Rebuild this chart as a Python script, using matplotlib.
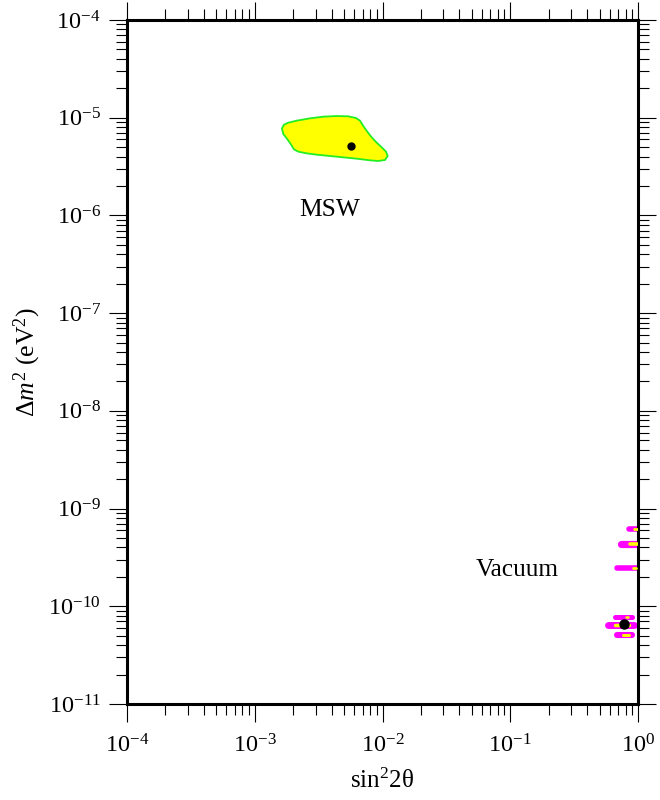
import numpy as np
import matplotlib
matplotlib.use("Agg")
import matplotlib.pyplot as plt

plt.rcParams['font.family'] = ['Liberation Serif', 'DejaVu Serif']
plt.rcParams['mathtext.fontset'] = 'custom'
plt.rcParams['mathtext.rm'] = 'Liberation Serif'
plt.rcParams['mathtext.it'] = 'Liberation Serif:italic'

# MSW allowed region (closed contour)
msw_sin2 = [1.633e-3, 1.694e-3, 1.832e-3, 2.130e-3, 2.707e-3, 3.440e-3, 4.380e-3, 5.399e-3,
            6.203e-3, 6.665e-3, 7.073e-3, 7.603e-3, 8.231e-3, 9.007e-3, 9.856e-3, 1.065e-2,
            1.098e-2, 1.046e-2, 9.271e-3, 7.984e-3, 6.281e-3, 4.933e-3, 3.882e-3, 3.053e-3,
            2.551e-3, 2.192e-3, 2.028e-3, 1.912e-3, 1.778e-3, 1.673e-3]
msw_dm2 = [7.783e-6, 8.488e-6, 8.897e-6, 9.326e-6, 9.856e-6, 1.0247e-5, 1.0411e-5, 1.0330e-5,
           9.931e-6, 9.326e-6, 8.226e-6, 7.196e-6, 6.298e-6, 5.555e-6, 4.976e-6, 4.493e-6,
           4.056e-6, 3.692e-6, 3.606e-6, 3.663e-6, 3.809e-6, 3.930e-6, 4.056e-6, 4.185e-6,
           4.319e-6, 4.493e-6, 4.746e-6, 5.382e-6, 6.152e-6, 6.812e-6]
msw_best = (5.66e-3, 5.17e-6)

# vacuum oscillation islands: sin^2 2theta range, dm2, yellow core range
vac_lo = [0.85, 0.74, 0.69, 0.66, 0.58, 0.69]
vac_hi = [1.05, 1.05, 1.05, 0.90, 0.93, 0.90]
vac_dm2 = [6.25e-10, 4.29e-10, 2.44e-10, 7.76e-11, 6.43e-11, 5.08e-11]
vac_width = [4.0, 5.2, 4.0, 3.6, 5.0, 4.4]
core_lo = [0.93, 0.86, 0.92, 0.80, 0.66, 0.76]
core_hi = [1.05, 1.05, 0.97, 0.84, 0.85, 0.85]
vac_best = (0.782, 6.53e-11)

xticks = [1e-4, 1e-3, 1e-2, 1e-1, 1e0]
xlabels = [r'$10^{-4}$', r'$10^{-3}$', r'$10^{-2}$', r'$10^{-1}$', r'$10^{0}$']
yticks = [1e-11, 1e-10, 1e-9, 1e-8, 1e-7, 1e-6, 1e-5, 1e-4]
ylabels = [r'$10^{-11}$', r'$10^{-10}$', r'$10^{-9}$', r'$10^{-8}$',
           r'$10^{-7}$', r'$10^{-6}$', r'$10^{-5}$', r'$10^{-4}$']

fig = plt.figure(figsize=(6.6, 8.0), dpi=100)
ax = fig.add_axes([0.1924, 0.12, 0.7743, 0.855])
ax.set_xscale('log')
ax.set_yscale('log')
ax.set_xlim(1e-4, 1)
ax.set_ylim(1e-11, 1e-4)

ax.fill(msw_sin2, msw_dm2, facecolor='#ffff00', edgecolor='#22ee22', lw=1.3, zorder=2)
ax.plot(*msw_best, 'o', color='black', ms=5, zorder=4)

for lo, hi, dm, w, clo, chi in zip(vac_lo, vac_hi, vac_dm2, vac_width, core_lo, core_hi):
    ax.plot([lo, hi], [dm, dm], color='#ff00ff', lw=w, solid_capstyle='round', zorder=2)
    ax.plot([clo, chi], [dm, dm], color='#ffff00', lw=w * 0.5, solid_capstyle='round', zorder=3)
ax.plot(*vac_best, 'o', color='black', ms=6.5, zorder=4)

ax.text(3.88e-3, 1.14e-6, 'MSW', fontsize=18.3, ha='center', va='center')
ax.text(0.113, 2.35e-10, 'Vacuum', fontsize=18.3, ha='center', va='center')

ax.set_xticks(xticks)
ax.set_xticklabels(xlabels)
ax.set_yticks(yticks)
ax.set_yticklabels(ylabels)
ax.tick_params(which='both', direction='out', top=True, right=True, labelsize=17.5, width=0.8)
ax.tick_params(which='major', length=13, pad=6)
ax.tick_params(axis='x', which='major', pad=9)
ax.tick_params(which='minor', length=8)
for sp in ax.spines.values():
    sp.set_linewidth(2.2)

ax.set_xlabel(r'sin$^{2}$2θ', fontsize=18, labelpad=8)
ax.set_ylabel(r'Δ$\mathit{m}^{2}$ (eV$^{2}$)', fontsize=18.5, labelpad=4)

fig.savefig('out.png', dpi=100)
